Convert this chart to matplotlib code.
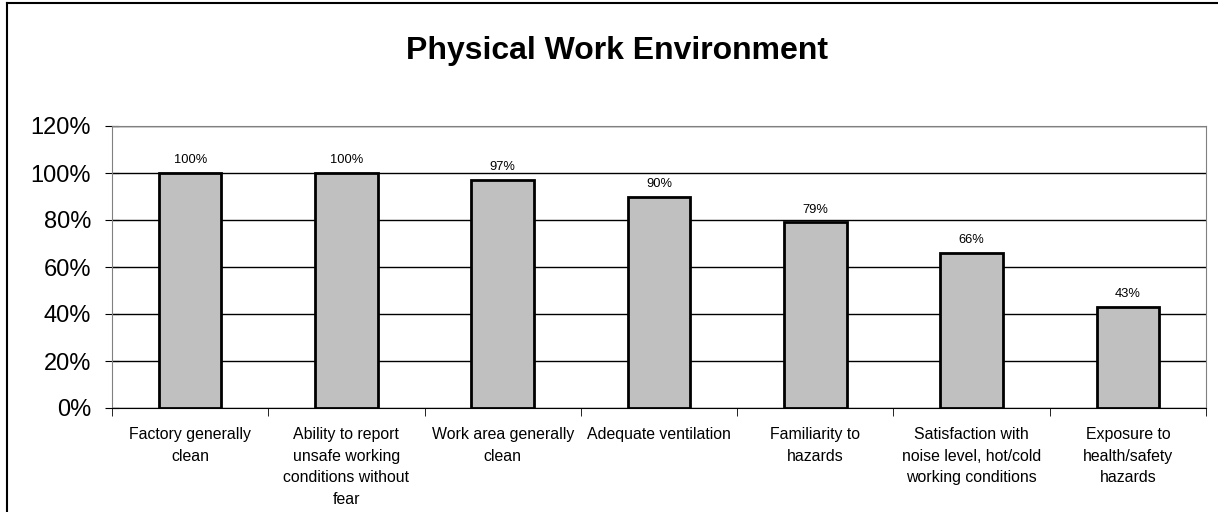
import matplotlib
matplotlib.use("Agg")
import matplotlib.pyplot as plt
from matplotlib.ticker import PercentFormatter, FixedLocator
from matplotlib.lines import Line2D

plt.rcParams['font.family'] = ['Liberation Sans', 'DejaVu Sans']

categories = ["Factory generally\nclean",
              "Ability to report\nunsafe working\nconditions without\nfear",
              "Work area generally\nclean",
              "Adequate ventilation",
              "Familiarity to\nhazards",
              "Satisfaction with\nnoise level, hot/cold\nworking conditions",
              "Exposure to\nhealth/safety\nhazards"]
values = [100, 100, 97, 90, 79, 66, 43]
title = "Physical Work Environment"

W, H = 1218, 512
fig = plt.figure(figsize=(W / 100, H / 100), dpi=100)
# chart-area border (only left and top edges visible in the crop)
fig.lines.append(Line2D([7 / W, 7 / W], [0, 1 - 3 / H], transform=fig.transFigure,
                        color='black', linewidth=1.5))
fig.lines.append(Line2D([7 / W, 1], [1 - 3 / H, 1 - 3 / H], transform=fig.transFigure,
                        color='black', linewidth=1.5))

ax = fig.add_axes([112 / W, 1 - 408 / H, (1206 - 112) / W, (408 - 126) / H])

x = list(range(len(values)))
ax.bar(x, values, width=0.4, color='#C0C0C0', edgecolor='black', linewidth=2, zorder=3)
for xi, v in zip(x, values):
    ax.text(xi, v + 2.8, f"{v}%", ha='center', va='bottom', fontsize=9.3)

ax.set_xlim(-0.5, len(values) - 0.5)
ax.set_ylim(0, 120)
ax.yaxis.set_major_locator(FixedLocator([0, 20, 40, 60, 80, 100, 120]))
ax.yaxis.set_major_formatter(PercentFormatter(decimals=0))
ax.grid(axis='y', color='black', linewidth=1, zorder=0)
ax.set_axisbelow(True)

ax.set_xticks(x)
ax.set_xticklabels(categories, fontsize=11.4, linespacing=1.53)
ax.tick_params(axis='x', length=0, pad=14)
ax.set_xticks([i - 0.5 for i in range(len(values) + 1)], minor=True)
ax.tick_params(axis='x', which='minor', length=6, direction='out', color='black')
ax.tick_params(axis='y', labelsize=17, length=10, direction='inout', pad=10, color='black')

for s in ['top', 'right', 'left']:
    ax.spines[s].set_color('#808080')
ax.spines['bottom'].set_color('black')

fig.text(617 / W, 1 - 51 / H, title, ha='center', va='center', fontsize=23, fontweight='bold')

fig.savefig("out.png", dpi=100)
